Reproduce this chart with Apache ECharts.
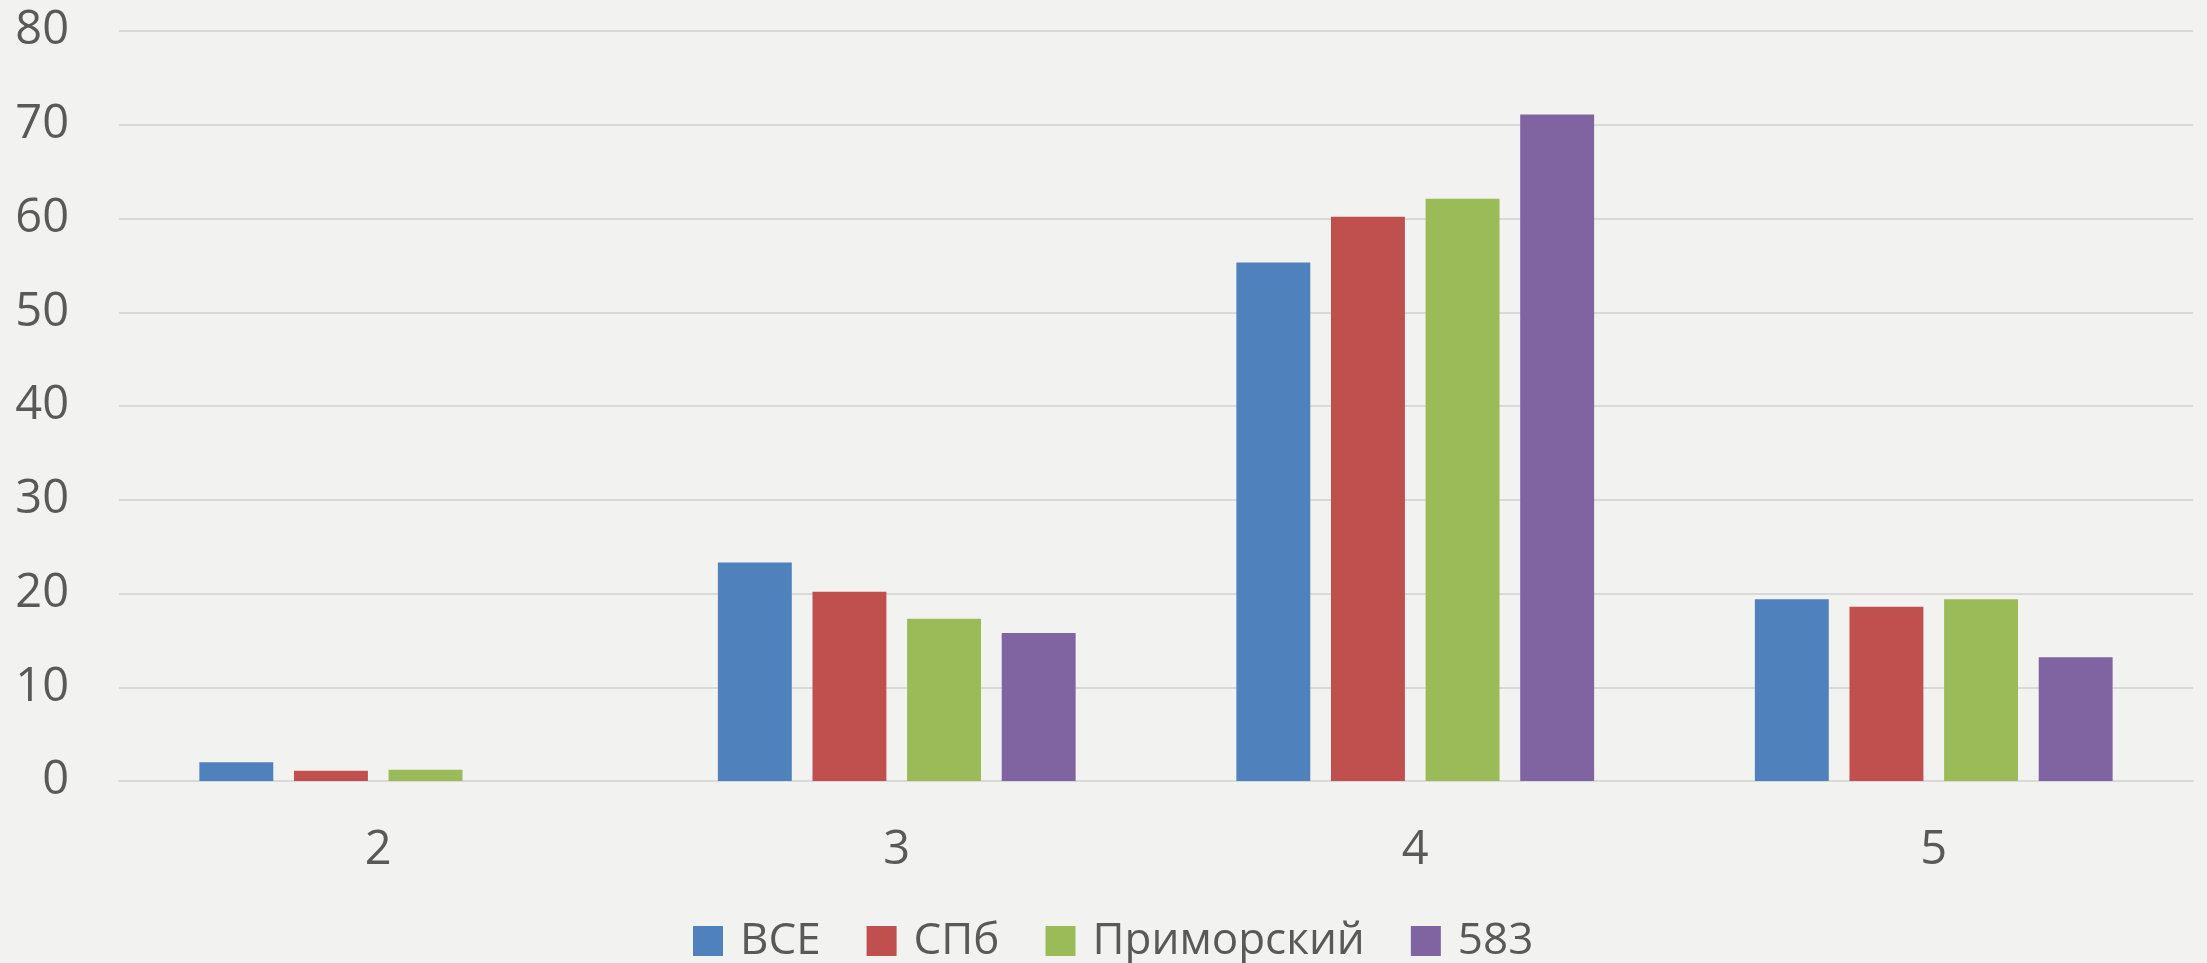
<!DOCTYPE html>
<html>
<head>
<meta charset="utf-8">
<script src="https://cdn.jsdelivr.net/npm/echarts@6/dist/echarts.min.js"></script>
<style>
html,body{margin:0;padding:0;background:#f2f2f0;}
#chart{width:2207px;height:963px;}
</style>
</head>
<body>
<div id="chart"></div>
<script>
const categories = ['2', '3', '4', '5'];
const seriesNames = ['ВСЕ', 'СПб', 'Приморский', '583'];
const valuesAll = [2.0, 23.3, 55.3, 19.4];
const valuesSpb = [1.1, 20.2, 60.2, 18.6];
const valuesPrim = [1.2, 17.3, 62.1, 19.4];
const values583 = [0, 15.8, 71.1, 13.2];
const yTicks = [0, 10, 20, 30, 40, 50, 60, 70, 80];
const colors = ['#4f81bd', '#c0504d', '#9bbb59', '#8064a2'];

const dataSets = [valuesAll, valuesSpb, valuesPrim, values583];
const font = '"Open Sans", "Noto Sans", sans-serif';

const chart = echarts.init(document.getElementById('chart'), null, {renderer: 'canvas'});
chart.setOption({
  backgroundColor: '#f2f2f0',
  animation: false,
  textStyle: {fontFamily: font},
  grid: {left: 119, right: 14, top: 31, bottom: 182, containLabel: false},
  legend: {
    left: 688,
    top: 914,
    itemWidth: 30,
    itemHeight: 30,
    itemGap: 46,
    icon: 'rect',
    formatter: n => n === 'Приморский' ? '{w|' + n + '}' : n,
    textStyle: {
      fontFamily: font, fontSize: 44, color: '#595959', padding: [0, 0, 0, 12],
      rich: {w: {width: 281, fontFamily: font, fontSize: 44, color: '#595959'}}
    },
    data: seriesNames
  },
  xAxis: {
    type: 'category',
    data: categories,
    axisLine: {show: true, lineStyle: {color: '#d9d9d9', width: 2}},
    axisTick: {show: false},
    axisLabel: {fontFamily: font, fontSize: 47, color: '#595959', margin: 46}
  },
  yAxis: {
    type: 'value',
    min: yTicks[0],
    max: yTicks[yTicks.length - 1],
    interval: 10,
    axisLine: {show: false},
    axisTick: {show: false},
    splitLine: {lineStyle: {color: '#d9d9d9', width: 2}},
    axisLabel: {fontFamily: font, fontSize: 47, color: '#595959', margin: 50}
  },
  series: seriesNames.map((name, i) => ({
    name: name,
    type: 'bar',
    data: dataSets[i],
    itemStyle: {color: colors[i]},
    barGap: '28%',
    barCategoryGap: '31%'
  }))
});
</script>
</body>
</html>
